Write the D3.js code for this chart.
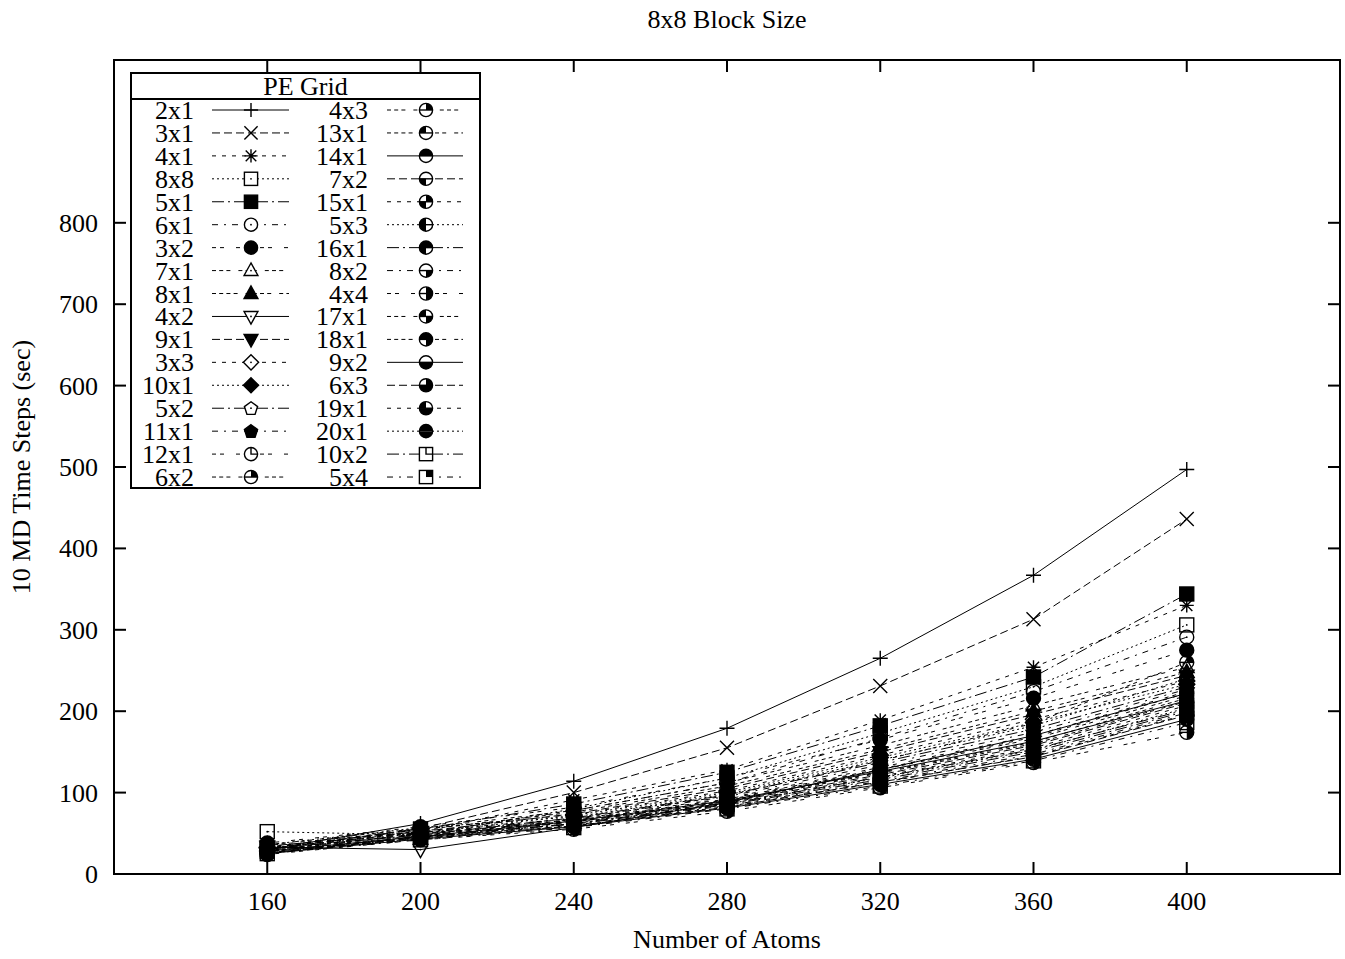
<!DOCTYPE html>
<html>
<head>
<meta charset="utf-8">
<script src="https://cdn.jsdelivr.net/npm/d3@7"></script>
<style>
  body { margin: 0; background: #fff; }
  svg { display: block; }
  text { font-family: "Liberation Serif", "Times New Roman", serif; fill: #000; }
</style>
</head>
<body>
<svg id="chart" width="1345" height="959"></svg>
<script>
// ---- data -------------------------------------------------------------
const atomCounts = [160, 200, 240, 280, 320, 360, 400];
const yTicks = [0, 100, 200, 300, 400, 500, 600, 700, 800];
const xTicks = [160, 200, 240, 280, 320, 360, 400];

const gridNames = [
  "2x1", "3x1", "4x1", "8x8", "5x1", "6x1", "3x2", "7x1", "8x1", "4x2",
  "9x1", "3x3", "10x1", "5x2", "11x1", "12x1", "6x2",
  "4x3", "13x1", "14x1", "7x2", "15x1", "5x3", "16x1", "8x2", "4x4",
  "17x1", "18x1", "9x2", "6x3", "19x1", "20x1", "10x2", "5x4"
];

// seconds for 10 MD time steps, one array per PE grid
const t2x1  = [30, 62, 114, 179, 265, 367, 497];
const t3x1  = [30, 56, 100, 155, 231, 313, 436];
const t4x1  = [32, 53, 91, 128, 189, 254, 330];
const t8x8  = [52, 48, 80, 118, 173, 230, 306];
const t5x1  = [30, 55, 86, 125, 182, 242, 344];
const t6x1  = [33, 50, 78, 112, 167, 224, 291];
const t3x2  = [38, 58, 82, 118, 165, 216, 275];
const t7x1  = [36, 56, 78, 112, 158, 207, 254];
const t8x1  = [35, 54, 76, 108, 153, 200, 248];
const t4x2  = [33, 30, 57, 88, 128, 170, 222];
const t9x1  = [34, 52, 74, 105, 150, 196, 244];
const t3x3  = [33, 55, 73, 102, 146, 190, 237];
const t10x1 = [32, 50, 72, 100, 143, 186, 233];
const t5x2  = [31, 48, 69, 97, 137, 178, 230];
const t11x1 = [30, 51, 68, 95, 134, 174, 227];
const t12x1 = [29, 47, 67, 93, 131, 170, 224];
const t6x2  = [28, 53, 68, 96, 139, 185, 260];
const t4x3  = [30, 49, 66, 91, 128, 166, 219];
const t13x1 = [27, 50, 65, 90, 125, 162, 216];
const t14x1 = [28, 46, 65, 90, 126, 163, 213];
const t7x2  = [26, 45, 64, 88, 122, 158, 210];
const t15x1 = [29, 48, 63, 87, 120, 155, 207];
const t5x3  = [27, 44, 62, 86, 118, 152, 204];
const t16x1 = [25, 47, 61, 85, 116, 150, 200];
const t8x2  = [26, 43, 60, 84, 114, 147, 198];
const t4x4  = [24, 42, 55, 77, 106, 137, 174];
const t17x1 = [27, 46, 59, 83, 112, 145, 196];
const t18x1 = [30, 49, 64, 89, 124, 160, 212];
const t9x2  = [25, 43, 58, 81, 110, 141, 190];
const t6x3  = [26, 44, 59, 82, 113, 144, 195];
const t19x1 = [33, 51, 66, 92, 129, 168, 222];
const t20x1 = [36, 57, 70, 98, 140, 182, 240];
const t10x2 = [28, 45, 62, 86, 119, 153, 202];
const t5x4  = [25, 42, 57, 80, 108, 139, 186];

const seriesTimes = [
  t2x1, t3x1, t4x1, t8x8, t5x1, t6x1, t3x2, t7x1, t8x1, t4x2,
  t9x1, t3x3, t10x1, t5x2, t11x1, t12x1, t6x2,
  t4x3, t13x1, t14x1, t7x2, t15x1, t5x3, t16x1, t8x2, t4x4,
  t17x1, t18x1, t9x2, t6x3, t19x1, t20x1, t10x2, t5x4
];

// ---- styles (gnuplot-like line types and point types) ----------------
const lineTypes = [0,1,2,3,4,5,6,7,8,0,1,2,3,4,5,6,7, 7,8,0,1,2,3,4,5,6,7,8,0,1,2,3,4,5];
const pointTypes = [
  "plus","cross","star","box","boxF","circle","circleF","tri","triF","triD",
  "triDF","dia","diaF","pent","pentF","C0","C1",
  "C1","C2","C3","C4","C5","C6","C7","C8","C9","C10","C11","C12","C13","C14","C15","S0","S1"
];
const U = 2; // dash unit
const dashPatterns = [
  null,
  [4*U, 2*U],
  [2*U, 3*U],
  [1*U, 1.5*U],
  [6*U, 2*U, 1*U, 2*U],
  [3*U, 3*U, 1*U, 3*U],
  [2*U, 2*U, 2*U, 6*U],
  [2*U, 1.6*U, 2*U, 1.6*U, 2*U, 4*U],
  [2*U, 1.6*U, 2*U, 1.6*U, 2*U, 1.6*U, 2*U, 4*U]
];

// ---- layout -----------------------------------------------------------
const plot = { left: 114, right: 1340, top: 60, bottom: 874 };

const svg = d3.select("#chart");
const x = d3.scaleLinear().domain([120, 440]).range([plot.left, plot.right]);
const y = d3.scaleLinear().domain([0, 1000]).range([plot.bottom, plot.top]);

// ---- markers ----------------------------------------------------------
// bg: fill used for the open parts of a symbol ("none" lets lines show through)
function drawMarker(g, type, cx, cy, bg, r) {
  const sw = 1.4;
  const m = g.append("g").attr("transform", `translate(${cx},${cy})`);
  const stroke = (sel) => sel.attr("stroke", "#000").attr("stroke-width", sw);
  const dot = () => m.append("circle").attr("r", 0.9).attr("fill", "#000");
  const poly = (pts, filled) => {
    stroke(m.append("polygon").attr("points", pts.map(p => p.join(",")).join(" "))
      .attr("fill", filled ? "#000" : bg).attr("stroke-linejoin", "miter"));
    if (!filled) dot();
  };
  if (type === "plus") {
    stroke(m.append("path").attr("d", `M${-r-0.5},0H${r+0.5}M0,${-r-0.5}V${r+0.5}`));
  } else if (type === "cross") {
    stroke(m.append("path").attr("d", `M${-r},${-r}L${r},${r}M${-r},${r}L${r},${-r}`));
  } else if (type === "star") {
    stroke(m.append("path").attr("d",
      `M${-r},0H${r}M0,${-r}V${r}M${-r*0.8},${-r*0.8}L${r*0.8},${r*0.8}M${-r*0.8},${r*0.8}L${r*0.8},${-r*0.8}`));
  } else if (type === "box" || type === "boxF") {
    const f = type === "boxF";
    stroke(m.append("rect").attr("x", -r).attr("y", -r).attr("width", 2*r).attr("height", 2*r)
      .attr("fill", f ? "#000" : bg));
    if (!f) dot();
  } else if (type === "circle" || type === "circleF") {
    const f = type === "circleF";
    stroke(m.append("circle").attr("r", r).attr("fill", f ? "#000" : bg));
    if (!f) dot();
  } else if (type === "tri" || type === "triF") {
    poly([[0, -r*1.15], [-r*1.05, r*0.75], [r*1.05, r*0.75]], type === "triF");
  } else if (type === "triD" || type === "triDF") {
    poly([[0, r*1.15], [-r*1.05, -r*0.75], [r*1.05, -r*0.75]], type === "triDF");
  } else if (type === "dia" || type === "diaF") {
    poly([[0, -r*1.15], [r*1.15, 0], [0, r*1.15], [-r*1.15, 0]], type === "diaF");
  } else if (type === "pent" || type === "pentF") {
    const pts = d3.range(5).map(i => {
      const a = -Math.PI / 2 + i * 2 * Math.PI / 5;
      return [r*1.05*Math.cos(a), r*1.05*Math.sin(a) + 0.5];
    });
    poly(pts, type === "pentF");
  } else if (type[0] === "C") {
    const n = +type.slice(1);
    m.append("circle").attr("r", r).attr("fill", bg);
    // quadrants: bit0 upper-right, bit1 upper-left, bit2 lower-left, bit3 lower-right
    for (let q = 0; q < 4; q++) {
      if (n & (1 << q)) {
        const a0 = q * Math.PI / 2, a1 = (q + 1) * Math.PI / 2;
        const p0 = [r*Math.cos(a0), -r*Math.sin(a0)];
        const p1 = [r*Math.cos(a1), -r*Math.sin(a1)];
        m.append("path").attr("d", `M0,0L${p0[0]},${p0[1]}A${r},${r} 0 0 0 ${p1[0]},${p1[1]}Z`)
          .attr("fill", "#000");
      }
    }
    if (n === 0) {
      stroke(m.append("path").attr("d", `M0,${-r}V0H${r}`).attr("fill", "none"));
    } else if (n !== 15) {
      stroke(m.append("path").attr("d", `M${-r},0H${r}`).attr("stroke-width", 1));
    }
    stroke(m.append("circle").attr("r", r).attr("fill", "none"));
  } else if (type[0] === "S") {
    const n = +type.slice(1);
    m.append("rect").attr("x", -r).attr("y", -r).attr("width", 2*r).attr("height", 2*r).attr("fill", bg);
    if (n & 1) m.append("rect").attr("x", 0).attr("y", -r).attr("width", r).attr("height", r).attr("fill", "#000");
    if (n === 0) stroke(m.append("path").attr("d", `M0,${-r}V0H${r}`).attr("fill", "none"));
    stroke(m.append("rect").attr("x", -r).attr("y", -r).attr("width", 2*r).attr("height", 2*r).attr("fill", "none"));
  }
}

// ---- series -------------------------------------------------------------
const dataLayer = svg.append("g");
const line = d3.line().x(d => x(d[0])).y(d => y(d[1]));

seriesTimes.forEach((vals, i) => {
  const pts = atomCounts.map((a, k) => [a, vals[k]]);
  const g = dataLayer.append("g");
  const dash = dashPatterns[lineTypes[i]];
  g.append("path")
    .attr("d", line(pts))
    .attr("fill", "none")
    .attr("stroke", "#000")
    .attr("stroke-width", 1)
    .attr("stroke-dasharray", dash ? dash.join(",") : null);
  pts.forEach(p => drawMarker(g, pointTypes[i], x(p[0]), y(p[1]), "none", 7));
});

// ---- frame and ticks ------------------------------------------------------
const frame = svg.append("g");
const tickLen = 12;
frame.append("rect")
  .attr("x", plot.left).attr("y", plot.top)
  .attr("width", plot.right - plot.left).attr("height", plot.bottom - plot.top)
  .attr("fill", "none").attr("stroke", "#000").attr("stroke-width", 2);

yTicks.forEach(v => {
  frame.append("line").attr("x1", plot.left).attr("x2", plot.left + tickLen)
    .attr("y1", y(v)).attr("y2", y(v)).attr("stroke", "#000").attr("stroke-width", 2);
  frame.append("line").attr("x1", plot.right).attr("x2", plot.right - tickLen)
    .attr("y1", y(v)).attr("y2", y(v)).attr("stroke", "#000").attr("stroke-width", 2);
  frame.append("text").attr("x", 98).attr("y", y(v) + 9)
    .attr("text-anchor", "end").attr("font-size", 26).text(v);
});
xTicks.forEach(v => {
  frame.append("line").attr("x1", x(v)).attr("x2", x(v))
    .attr("y1", plot.bottom).attr("y2", plot.bottom - tickLen).attr("stroke", "#000").attr("stroke-width", 2);
  frame.append("line").attr("x1", x(v)).attr("x2", x(v))
    .attr("y1", plot.top).attr("y2", plot.top + tickLen).attr("stroke", "#000").attr("stroke-width", 2);
  frame.append("text").attr("x", x(v)).attr("y", 910)
    .attr("text-anchor", "middle").attr("font-size", 26).text(v);
});

// ---- titles -------------------------------------------------------------
svg.append("text").attr("x", (plot.left + plot.right) / 2).attr("y", 28)
  .attr("text-anchor", "middle").attr("font-size", 26).text("8x8 Block Size");
svg.append("text").attr("x", (plot.left + plot.right) / 2).attr("y", 948)
  .attr("text-anchor", "middle").attr("font-size", 26).text("Number of Atoms");
svg.append("text")
  .attr("transform", `translate(30,${(plot.top + plot.bottom) / 2}) rotate(-90)`)
  .attr("text-anchor", "middle").attr("font-size", 26).text("10 MD Time Steps (sec)");

// ---- legend -------------------------------------------------------------
const leg = svg.append("g");
const legBox = { left: 131, right: 480, top: 73, sep: 99, bottom: 488 };
leg.append("rect").attr("x", legBox.left).attr("y", legBox.top)
  .attr("width", legBox.right - legBox.left).attr("height", legBox.bottom - legBox.top)
  .attr("fill", "#fff").attr("stroke", "#000").attr("stroke-width", 2);
leg.append("line").attr("x1", legBox.left).attr("x2", legBox.right)
  .attr("y1", legBox.sep).attr("y2", legBox.sep).attr("stroke", "#000").attr("stroke-width", 2);
leg.append("text").attr("x", (legBox.left + legBox.right) / 2).attr("y", 95)
  .attr("text-anchor", "middle").attr("font-size", 26).text("PE Grid");

const rowsPerCol = 17;
const rowStep = 22.94;
const cols = [
  { textX: 194, lineX0: 212, lineX1: 289, markX: 251 },
  { textX: 368, lineX0: 387, lineX1: 463, markX: 426 }
];
gridNames.forEach((name, i) => {
  const c = cols[Math.floor(i / rowsPerCol)];
  const cy = 110 + (i % rowsPerCol) * rowStep;
  const g = leg.append("g");
  g.append("text").attr("x", c.textX).attr("y", cy + 9)
    .attr("text-anchor", "end").attr("font-size", 26).text(name);
  const dash = dashPatterns[lineTypes[i]];
  g.append("line").attr("x1", c.lineX0).attr("x2", c.lineX1).attr("y1", cy).attr("y2", cy)
    .attr("stroke", "#000").attr("stroke-width", 1)
    .attr("stroke-dasharray", dash ? dash.join(",") : null);
  drawMarker(g, pointTypes[i], c.markX, cy, "#fff", 6.6);
});
</script>
</body>
</html>
